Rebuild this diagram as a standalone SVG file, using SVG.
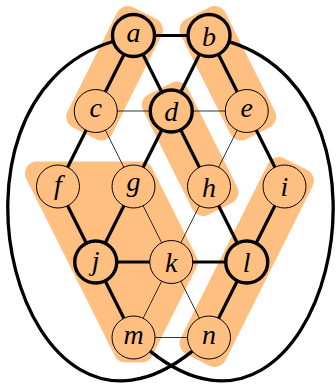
<svg xmlns="http://www.w3.org/2000/svg" width="336" height="384" viewBox="0 0 336 384">
<style>
.hl{fill:#FFBF80;stroke:#FFBF80;stroke-width:24;stroke-linejoin:round}
.thick{stroke:#000;stroke-width:3.2;fill:none}
.thin{stroke:#000;stroke-width:0.8;fill:none}
.loop{stroke:#000;stroke-width:3.3;fill:none}
.n1 circle{fill:#FFBF80;stroke:#000;stroke-width:1}
.n2 circle{fill:#FFBF80;stroke:#000;stroke-width:3.4}
.lbl{font-family:'Liberation Serif','DejaVu Serif','Times New Roman',serif;font-style:italic;font-size:28px;text-anchor:middle;fill:#000}
</style>
<g id="highlights">
<polygon class="hl" points="127.69,18.06 150.94,29.69 101.56,128.44 78.31,116.81"/>
<polygon class="hl" points="191.56,29.69 214.81,18.06 264.19,116.81 240.94,128.44"/>
<polygon class="hl" points="153.81,105.19 177.06,93.56 226.44,192.31 203.19,203.94"/>
<polygon class="hl" points="278.69,169.06 301.94,180.69 214.81,354.94 191.56,343.31"/>
<polygon class="hl" points="36.97,173.5 141.53,173.5 185.78,262 141.53,350.5 125.47,350.5"/>
</g>
<g id="connectors">
<path class="loop" d="M112.9,41.5 C -80,100 20,490 192.4,351.1"/>
<path class="loop" d="M229.5,41.8 C 419,100 322.5,490 150.1,351.1"/>
<line class="thick" x1="133.5" y1="35.5" x2="209" y2="35.5"/>
<line class="thick" x1="133.5" y1="35.5" x2="95.75" y2="111"/>
<line class="thick" x1="133.5" y1="35.5" x2="171.25" y2="111"/>
<line class="thick" x1="209" y1="35.5" x2="171.25" y2="111"/>
<line class="thick" x1="209" y1="35.5" x2="246.75" y2="111"/>
<line class="thin" x1="95.75" y1="111" x2="171.25" y2="111"/>
<line class="thin" x1="171.25" y1="111" x2="246.75" y2="111"/>
<line class="thick" x1="95.75" y1="111" x2="58" y2="186.5"/>
<line class="thin" x1="95.75" y1="111" x2="133.5" y2="186.5"/>
<line class="thick" x1="171.25" y1="111" x2="133.5" y2="186.5"/>
<line class="thick" x1="171.25" y1="111" x2="209" y2="186.5"/>
<line class="thin" x1="246.75" y1="111" x2="209" y2="186.5"/>
<line class="thick" x1="246.75" y1="111" x2="284.5" y2="186.5"/>
<line class="thick" x1="58" y1="186.5" x2="95.75" y2="262"/>
<line class="thick" x1="133.5" y1="186.5" x2="95.75" y2="262"/>
<line class="thin" x1="133.5" y1="186.5" x2="171.25" y2="262"/>
<line class="thin" x1="209" y1="186.5" x2="171.25" y2="262"/>
<line class="thick" x1="209" y1="186.5" x2="246.75" y2="262"/>
<line class="thick" x1="284.5" y1="186.5" x2="246.75" y2="262"/>
<line class="thick" x1="95.75" y1="262" x2="171.25" y2="262"/>
<line class="thick" x1="171.25" y1="262" x2="246.75" y2="262"/>
<line class="thick" x1="95.75" y1="262" x2="133.5" y2="337.5"/>
<line class="thin" x1="171.25" y1="262" x2="133.5" y2="337.5"/>
<line class="thin" x1="171.25" y1="262" x2="209" y2="337.5"/>
<line class="thick" x1="246.75" y1="262" x2="209" y2="337.5"/>
<line class="thin" x1="133.5" y1="337.5" x2="209" y2="337.5"/>
</g>
<g id="a" class="n2"><circle cx="133.5" cy="35.5" r="21"/><text class="lbl" x="133.5" y="41.8">a</text></g>
<g id="b" class="n2"><circle cx="209" cy="35.5" r="21"/><text class="lbl" x="209" y="45.5">b</text></g>
<g id="c" class="n1"><circle cx="95.75" cy="111" r="21.5"/><text class="lbl" x="95.75" y="117.3">c</text></g>
<g id="d" class="n2"><circle cx="171.25" cy="111" r="21"/><text class="lbl" x="171.25" y="121">d</text></g>
<g id="e" class="n1"><circle cx="246.75" cy="111" r="21.5"/><text class="lbl" x="246.75" y="117.3">e</text></g>
<g id="f" class="n1"><circle cx="58" cy="186.5" r="21.5"/><text class="lbl" x="58" y="193.5">f</text></g>
<g id="g" class="n1"><circle cx="133.5" cy="186.5" r="21.5"/><text class="lbl" x="133.5" y="190.8">g</text></g>
<g id="h" class="n1"><circle cx="209" cy="186.5" r="21.5"/><text class="lbl" x="209" y="196.5">h</text></g>
<g id="i" class="n1"><circle cx="284.5" cy="186.5" r="21.5"/><text class="lbl" x="284.5" y="196">i</text></g>
<g id="j" class="n2"><circle cx="95.75" cy="262" r="21"/><text class="lbl" x="95.75" y="269.5">j</text></g>
<g id="k" class="n1"><circle cx="171.25" cy="262" r="21.5"/><text class="lbl" x="171.25" y="272">k</text></g>
<g id="l" class="n2"><circle cx="246.75" cy="262" r="21"/><text class="lbl" x="246.75" y="272">l</text></g>
<g id="m" class="n1"><circle cx="133.5" cy="337.5" r="21.5"/><text class="lbl" x="133.5" y="343.8">m</text></g>
<g id="n" class="n1"><circle cx="209" cy="337.5" r="21.5"/><text class="lbl" x="209" y="343.8">n</text></g>
</svg>
